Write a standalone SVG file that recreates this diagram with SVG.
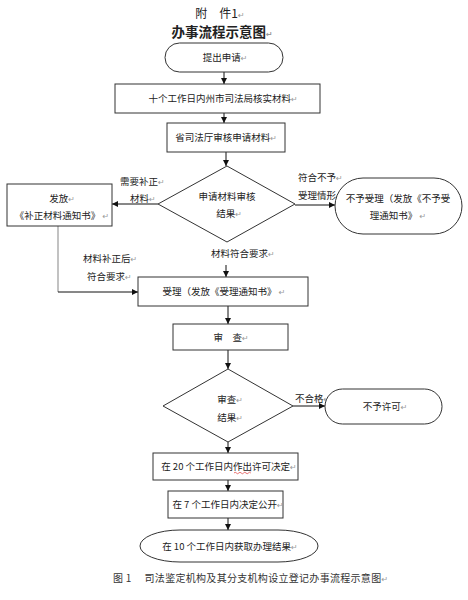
<svg xmlns="http://www.w3.org/2000/svg" width="468" height="600" viewBox="0 0 468 600">
<defs>
<style>
text{font-family:"Noto Sans CJK SC","Liberation Sans",sans-serif;font-size:9.5px;fill:#222}
.c{text-anchor:middle}
.t1{font-size:12px}
.t2{font-size:13.5px;font-weight:bold}
.cap{font-size:10px;letter-spacing:0.3px;fill:#333}
.pm{fill:#999;font-size:8px;font-family:"DejaVu Sans",sans-serif}
.box{fill:#fff;stroke:#333;stroke-width:1}
.ln{fill:none;stroke:#111;stroke-width:1}
.gl{fill:none;stroke:#999;stroke-width:1.2}
</style>
<marker id="ah" markerWidth="6" markerHeight="6" refX="6" refY="3" orient="auto" markerUnits="userSpaceOnUse">
<path d="M0,0 L6,3 L0,6 z" fill="#111"/>
</marker>
</defs>
<rect width="468" height="600" fill="#fff"/>

<g id="title">
<text class="c t1" x="220" y="18">附　件1<tspan class="pm">↵</tspan></text>
<text class="c t2" x="222" y="37">办事流程示意图<tspan class="pm">↵</tspan></text>
</g>

<g id="connectors">
<line class="ln" x1="224" y1="72" x2="224" y2="84" marker-end="url(#ah)"/>
<line class="ln" x1="224" y1="113" x2="224" y2="123" marker-end="url(#ah)"/>
<line class="ln" x1="226" y1="152" x2="226" y2="166" marker-end="url(#ah)"/>
<line class="ln" x1="158" y1="204" x2="112" y2="204" marker-end="url(#ah)"/>
<line class="ln" x1="295" y1="205" x2="335" y2="205" marker-end="url(#ah)"/>
<line class="ln" x1="226" y1="265" x2="226" y2="277" marker-end="url(#ah)"/>
<line class="gl" x1="58" y1="226" x2="58" y2="292"/>
<line class="ln" x1="58" y1="292" x2="138" y2="292" marker-end="url(#ah)"/>
<line class="ln" x1="228" y1="306" x2="228" y2="324" marker-end="url(#ah)"/>
<line class="ln" x1="228" y1="350" x2="228" y2="369" marker-end="url(#ah)"/>
<line class="ln" x1="293" y1="406" x2="325" y2="406" marker-end="url(#ah)"/>
<line class="ln" x1="228" y1="442" x2="228" y2="453" marker-end="url(#ah)"/>
<line class="ln" x1="228" y1="480" x2="228" y2="491" marker-end="url(#ah)"/>
<line class="ln" x1="228" y1="518" x2="228" y2="530" marker-end="url(#ah)"/>
<text x="120" y="185">需要补正<tspan class="pm">↵</tspan></text>
<text x="130" y="202">材料<tspan class="pm">↵</tspan></text>
<text x="298" y="181">符合不予<tspan class="pm">↵</tspan></text>
<text x="298" y="199">受理情形<tspan class="pm">↵</tspan></text>
<text x="211" y="257">材料符合要求<tspan class="pm">↵</tspan></text>
<text x="83" y="262">材料补正后<tspan class="pm">↵</tspan></text>
<text x="87" y="280">符合要求<tspan class="pm">↵</tspan></text>
<text x="295" y="402">不合格<tspan class="pm">↵</tspan></text>
</g>

<g id="n-start">
<rect class="box" x="165" y="43" width="118" height="29" rx="14.5"/>
<text class="c" x="225" y="61">提出申请<tspan class="pm">↵</tspan></text>
</g>
<g id="n-verify">
<rect class="box" x="115" y="84" width="205" height="29"/>
<text class="c" x="223" y="102">十个工作日内州市司法局核实材料<tspan class="pm">↵</tspan></text>
</g>
<g id="n-review">
<rect class="box" x="167" y="123" width="118" height="29"/>
<text class="c" x="226" y="141">省司法厅审核申请材料<tspan class="pm">↵</tspan></text>
</g>
<g id="n-decision1">
<polygon class="box" points="227,166 295,204 227,242 158,204"/>
<text class="c" x="227" y="200">申请材料审核</text>
<text class="c" x="229" y="217">结果<tspan class="pm">↵</tspan></text>
</g>
<g id="n-supplement">
<rect class="box" x="7" y="184" width="105" height="42"/>
<text class="c" x="62" y="202">发放<tspan class="pm">↵</tspan></text>
<text class="c" x="62" y="219">《补正材料通知书》 <tspan class="pm">↵</tspan></text>
</g>
<g id="n-reject">
<rect class="box" x="335" y="178" width="127" height="56" rx="28"/>
<text class="c" x="398" y="202">不予受理（发放《不予受</text>
<text class="c" x="398" y="219">理通知书》 <tspan class="pm">↵</tspan></text>
</g>
<g id="n-accept">
<rect class="box" x="138" y="277" width="170" height="29"/>
<text class="c" x="224" y="295">受理（发放《受理通知书》 <tspan class="pm">↵</tspan></text>
</g>
<g id="n-examine">
<rect class="box" x="173" y="324" width="115" height="26"/>
<text class="c" x="231" y="341">审　查<tspan class="pm">↵</tspan></text>
</g>
<g id="n-decision2">
<polygon class="box" points="228,369 293,406 228,442 163,406"/>
<text class="c" x="230" y="403">审查<tspan class="pm">↵</tspan></text>
<text class="c" x="230" y="421">结果<tspan class="pm">↵</tspan></text>
</g>
<g id="n-deny">
<rect class="box" x="325" y="389" width="117" height="35" rx="17.5"/>
<text class="c" x="385" y="410">不予许可<tspan class="pm">↵</tspan></text>
</g>
<g id="n-decide20">
<rect class="box" x="153" y="453" width="145" height="27"/>
<text class="c" x="229" y="470">在 20 个工作日内作出许可决定<tspan class="pm">↵</tspan></text>
<path d="M234,473 q1.2,-1.5 2.4,0 t2.4,0 t2.4,0 t2.4,0 t2.4,0 t2.4,0 t2.4,0" fill="none" stroke="#d33" stroke-width="0.7"/>
</g>
<g id="n-publish7">
<rect class="box" x="168" y="491" width="115" height="27"/>
<text class="c" x="228" y="508">在 7 个工作日内决定公开<tspan class="pm">↵</tspan></text>
</g>
<g id="n-end">
<rect class="box" x="140" y="530" width="178" height="32" rx="40" ry="16"/>
<text class="c" x="230" y="550">在 10 个工作日内获取办理结果<tspan class="pm">↵</tspan></text>
</g>

<g id="caption">
<text class="cap" x="113" y="582">图 1　 司法鉴定机构及其分支机构设立登记办事流程示意图<tspan class="pm">↵</tspan></text>
</g>
</svg>
